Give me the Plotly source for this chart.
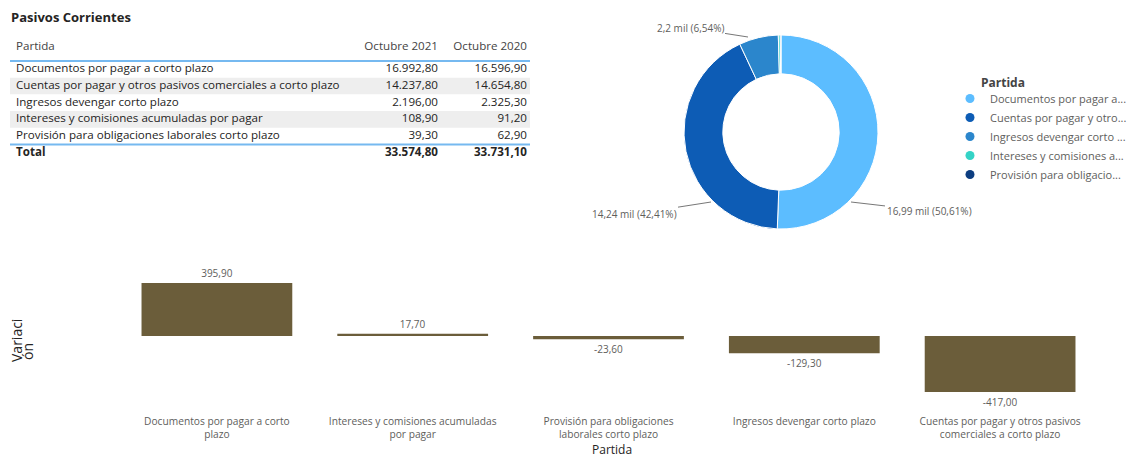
import plotly.graph_objects as go

# Datos de la tabla "Pasivos Corrientes"
partidas = [
    "Documentos por pagar a corto plazo",
    "Cuentas por pagar y otros pasivos comerciales a corto plazo",
    "Ingresos devengar corto plazo",
    "Intereses y comisiones acumuladas por pagar",
    "Provisión para obligaciones laborales corto plazo",
]
oct_2021 = [16992.80, 14237.80, 2196.00, 108.90, 39.30]
oct_2020 = [16596.90, 14654.80, 2325.30, 91.20, 62.90]
total_2021 = 33574.80
total_2020 = 33731.10
encabezados = ["Partida", "Octubre 2021", "Octubre 2020"]

# Texto de la leyenda (recortado como en el informe)
leyenda = [
    "Documentos por pagar a...",
    "Cuentas por pagar y otro...",
    "Ingresos devengar corto ...",
    "Intereses y comisiones a...",
    "Provisión para obligacio...",
]
colores_donut = ["#5CBDFF", "#0D5CB5", "#2B86CC", "#34D3C6", "#0C3D80"]

# Etiquetas del donut (solo las tres mayores)
etiquetas_donut = ["16,99 mil (50,61%)", "14,24 mil (42,41%)", "2,2 mil (6,54%)"]

# Variación ordenada de mayor a menor
partidas_var = [
    "Documentos por pagar a corto plazo",
    "Intereses y comisiones acumuladas por pagar",
    "Provisión para obligaciones laborales corto plazo",
    "Ingresos devengar corto plazo",
    "Cuentas por pagar y otros pasivos comerciales a corto plazo",
]
etiquetas_var = [
    "Documentos por pagar a corto<br>plazo",
    "Intereses y comisiones acumuladas<br>por pagar",
    "Provisión para obligaciones<br>laborales corto plazo",
    "Ingresos devengar corto plazo",
    "Cuentas por pagar y otros pasivos<br>comerciales a corto plazo",
]
variacion = [395.90, 17.70, -23.60, -129.30, -417.00]

W, H = 1141, 457
OFF = 8  # margen del body de la página
FUENTE = "Segoe UI, Open Sans, sans-serif"
GRIS = "#605E5C"
NEGRO = "#252423"
AZUL_LINEA = "#76B9F0"


def px_x(x):
    return (x - OFF) / W


def px_y(y):
    return 1 - (y - OFF) / H


def fmt(v):
    # formato español: punto de miles y coma decimal
    return f"{v:,.2f}".replace(",", "X").replace(".", ",").replace("X", ".")


# Geometría de la tabla (en píxeles de la imagen)
T_IZQ, T_DER = 10, 530
T_ARRIBA, T_ABAJO = 34, 162
FILA0, PASO = 69.3, 16.7


def fila(py):
    return (py - FILA0) / PASO


fig = go.Figure()

# ---- Tabla dibujada como texto sobre un eje propio ----
n = len(partidas)
filas = list(range(n + 1))
col_partida = partidas + ["<b>Total</b>"]
col_2021 = [fmt(v) for v in oct_2021] + ["<b>" + fmt(total_2021) + "</b>"]
col_2020 = [fmt(v) for v in oct_2020] + ["<b>" + fmt(total_2020) + "</b>"]
y_encab = fila(47)

for xs, textos, pos in [
    (6, col_partida, "middle right"),
    (428, col_2021, "middle left"),
    (517, col_2020, "middle left"),
]:
    fig.add_trace(go.Scatter(
        x=[xs] * len(textos), y=filas, text=textos, mode="text",
        textposition=pos, textfont=dict(family=FUENTE, size=11.6, color=NEGRO),
        xaxis="x3", yaxis="y3", showlegend=False, hoverinfo="skip",
    ))

fig.add_trace(go.Scatter(
    x=[6, 428, 517], y=[y_encab] * 3, text=encabezados, mode="text",
    textposition=["middle right", "middle left", "middle left"],
    textfont=dict(family=FUENTE, size=11.6, color="#444444"),
    xaxis="x3", yaxis="y3", showlegend=False, hoverinfo="skip",
))

# ---- Donut ----
fig.add_trace(go.Pie(
    labels=partidas,
    values=oct_2021,
    hole=0.6,
    sort=False,
    direction="clockwise",
    rotation=0,
    marker=dict(colors=colores_donut, line=dict(color="white", width=1)),
    textinfo="none",
    showlegend=False,
    domain=dict(x=[px_x(684), px_x(878)], y=[px_y(229), px_y(35)]),
))

# Leyenda con marcadores circulares
for nombre, color in zip(leyenda, colores_donut):
    fig.add_trace(go.Scatter(
        x=[None], y=[None], mode="markers", name=nombre,
        marker=dict(color=color, size=9, symbol="circle"),
        xaxis="x3", yaxis="y3",
    ))

# ---- Barras de variación ----
fig.add_trace(go.Bar(
    x=partidas_var,
    y=variacion,
    marker=dict(color="#6B5D3A", line=dict(width=0)),
    texttemplate="%{y:.2f}",
    textposition="outside",
    textfont=dict(family=FUENTE, size=10, color=GRIS),
    cliponaxis=False,
    showlegend=False,
))

# Franjas grises y líneas azules de la tabla
formas = []
for i in (1, 3):
    formas.append(dict(type="rect", xref="x3", yref="y3", x0=0, x1=T_DER - T_IZQ,
                       y0=i - 0.5, y1=i + 0.5, fillcolor="#EEEEEE", line=dict(width=0),
                       layer="below"))
for yl in (-0.5, n - 0.5):
    formas.append(dict(type="line", xref="x3", yref="y3", x0=0, x1=T_DER - T_IZQ,
                       y0=yl, y1=yl, line=dict(color=AZUL_LINEA, width=2)))

anot_etiqueta = dict(xref="paper", yref="paper", showarrow=True, arrowhead=0,
                     arrowwidth=1, arrowcolor="#777777",
                     font=dict(family=FUENTE, size=10, color=GRIS))

fig.update_layout(
    width=W,
    height=H,
    margin=dict(l=0, r=0, t=0, b=0, autoexpand=False),
    paper_bgcolor="white",
    plot_bgcolor="white",
    separators=",.",
    font=dict(family=FUENTE, size=11, color=GRIS),
    bargap=0.23,
    xaxis=dict(
        type="category",
        domain=[px_x(119), px_x(1098)],
        tickmode="array",
        tickvals=partidas_var,
        ticktext=etiquetas_var,
        showgrid=False, zeroline=False, showline=False, ticks="",
        ticklabelstandoff=4,
        tickfont=dict(family=FUENTE, size=10.2, color=GRIS),
    ),
    yaxis=dict(
        domain=[px_y(410), px_y(262)],
        range=[-552, 552],
        showgrid=False, zeroline=False, showline=False,
        showticklabels=False, ticks="",
    ),
    xaxis3=dict(
        domain=[px_x(T_IZQ), px_x(T_DER)], range=[0, T_DER - T_IZQ], anchor="y3",
        visible=False, fixedrange=True,
    ),
    yaxis3=dict(
        domain=[px_y(T_ABAJO), px_y(T_ARRIBA)], range=[fila(T_ABAJO), fila(T_ARRIBA)],
        anchor="x3", visible=False, fixedrange=True,
    ),
    legend=dict(
        x=px_x(950), y=px_y(84), xanchor="left", yanchor="top",
        font=dict(family=FUENTE, size=11, color=GRIS),
        itemclick=False, tracegroupgap=0, bgcolor="rgba(0,0,0,0)",
    ),
    shapes=formas,
    annotations=[
        dict(text="<b>Pasivos Corrientes</b>", x=px_x(9), y=px_y(17), xref="paper", yref="paper",
             xanchor="left", yanchor="middle", showarrow=False,
             font=dict(family=FUENTE, size=13, color=NEGRO)),
        dict(text="<b>Partida</b>", x=px_x(979), y=px_y(83), xref="paper", yref="paper",
             xanchor="left", yanchor="middle", showarrow=False,
             font=dict(family=FUENTE, size=12, color="#444444")),
        dict(text="Partida", x=px_x(612), y=px_y(449), xref="paper", yref="paper",
             xanchor="center", yanchor="middle", showarrow=False,
             font=dict(family=FUENTE, size=12, color=NEGRO)),
        dict(text="Variaci", x=px_x(16), y=px_y(341), xref="paper", yref="paper",
             xanchor="center", yanchor="middle", textangle=-90, showarrow=False,
             font=dict(family=FUENTE, size=14, color=NEGRO)),
        dict(text="ón", x=px_x(27), y=px_y(352), xref="paper", yref="paper",
             xanchor="center", yanchor="middle", textangle=-90, showarrow=False,
             font=dict(family=FUENTE, size=14, color=NEGRO)),
        dict(anot_etiqueta, text=etiquetas_donut[0], x=px_x(851), y=px_y(202), ax=78, ay=9),
        dict(anot_etiqueta, text=etiquetas_donut[1], x=px_x(711), y=px_y(202), ax=-77, ay=12),
        dict(anot_etiqueta, text=etiquetas_donut[2], x=px_x(748), y=px_y(37), ax=-58, ay=-9),
    ],
)

fig.write_html("out.html")
